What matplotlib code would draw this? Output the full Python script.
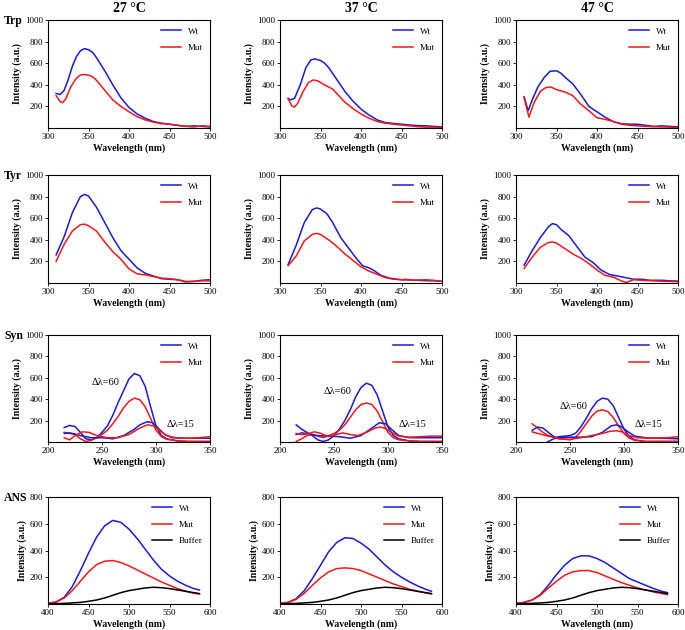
import matplotlib
matplotlib.use("Agg")
import matplotlib.pyplot as plt

plt.rcParams['font.family'] = ['Liberation Serif', 'DejaVu Serif']

# ---- Trp ----
trp27_x_wt = [310, 315, 320, 325, 330, 335, 340, 345, 350, 355, 360, 370, 380, 390, 400, 410, 420, 430, 440, 450, 460, 470, 480, 490, 500]
trp27_wt = [320, 310, 350, 450, 570, 660, 715, 735, 725, 700, 650, 530, 400, 280, 190, 130, 90, 60, 45, 35, 25, 15, 20, 15, 10]
trp27_x_mut = [310, 315, 318, 322, 328, 335, 340, 345, 350, 355, 360, 370, 380, 390, 400, 410, 420, 430, 440, 450, 460, 470, 480, 490, 500]
trp27_mut = [300, 245, 235, 270, 380, 460, 490, 495, 490, 475, 440, 350, 260, 200, 150, 105, 75, 55, 40, 35, 25, 15, 10, 20, 15]

trp37_x_wt = [310, 313, 318, 325, 332, 338, 343, 350, 355, 360, 370, 380, 390, 400, 410, 420, 430, 440, 450, 460, 470, 480, 490, 500]
trp37_wt = [275, 260, 275, 400, 560, 630, 640, 625, 600, 560, 450, 340, 250, 175, 120, 75, 50, 42, 35, 28, 22, 20, 15, 10]
trp37_x_mut = [310, 315, 318, 322, 328, 335, 341, 347, 355, 365, 370, 380, 390, 400, 410, 420, 430, 440, 450, 460, 470, 480, 490, 500]
trp37_mut = [270, 200, 195, 230, 330, 420, 445, 435, 400, 360, 320, 240, 180, 130, 90, 60, 45, 35, 28, 20, 12, 8, 8, 5]

trp47_x_wt = [310, 315, 320, 327, 335, 342, 350, 355, 362, 370, 380, 390, 400, 410, 420, 430, 440, 450, 460, 470, 480, 490, 500]
trp47_wt = [290, 160, 260, 380, 470, 525, 530, 510, 460, 410, 310, 200, 150, 100, 60, 40, 35, 35, 25, 15, 20, 15, 10]
trp47_x_mut = [310, 316, 322, 330, 337, 343, 350, 360, 370, 380, 390, 400, 410, 420, 430, 440, 450, 460, 470, 480, 490, 500]
trp47_mut = [280, 100, 230, 340, 375, 380, 355, 335, 300, 220, 160, 95, 80, 60, 35, 25, 20, 15, 12, 10, 8, 5]

# ---- Tyr ----
tyr27_x_wt = [310, 320, 330, 340, 345, 350, 360, 370, 380, 390, 400, 410, 420, 430, 440, 450, 460, 470, 480, 490, 500]
tyr27_wt = [260, 430, 650, 800, 820, 805, 700, 560, 420, 300, 220, 140, 90, 65, 40, 35, 30, 10, 15, 25, 30]
tyr27_x_mut = [310, 320, 330, 340, 345, 350, 360, 370, 380, 390, 400, 410, 420, 430, 440, 450, 460, 470, 480, 490, 500]
tyr27_mut = [200, 360, 480, 540, 545, 530, 480, 380, 290, 220, 130, 85, 75, 60, 45, 40, 30, 15, 15, 20, 20]

tyr37_x_wt = [310, 320, 330, 340, 345, 350, 358, 365, 375, 385, 395, 402, 410, 415, 425, 435, 450, 460, 470, 480, 490, 500]
tyr37_wt = [170, 350, 560, 680, 695, 685, 640, 560, 420, 320, 220, 160, 140, 120, 70, 45, 30, 28, 25, 22, 20, 15]
tyr37_x_mut = [310, 320, 330, 340, 345, 350, 360, 370, 380, 390, 400, 410, 420, 430, 440, 450, 455, 465, 480, 490, 500]
tyr37_mut = [160, 250, 390, 450, 460, 450, 400, 340, 270, 210, 150, 110, 80, 50, 35, 30, 35, 25, 30, 25, 15]

tyr47_x_wt = [310, 320, 330, 340, 345, 350, 355, 365, 375, 385, 395, 405, 415, 425, 435, 445, 455, 465, 480, 490, 500]
tyr47_wt = [165, 300, 420, 520, 550, 540, 500, 440, 340, 240, 190, 120, 80, 65, 50, 35, 35, 25, 25, 20, 18]
tyr47_x_mut = [310, 320, 330, 340, 345, 350, 360, 370, 380, 390, 400, 410, 420, 430, 436, 445, 455, 470, 485, 500]
tyr47_mut = [135, 240, 330, 375, 380, 370, 320, 270, 230, 180, 120, 70, 55, 20, 5, 30, 25, 20, 15, 12]

# ---- Syn (two scans each: dl=60 and dl=15) ----
syn27_x_wt60 = [215, 220, 225, 230, 235, 240, 245, 250, 255, 260, 265, 270, 275, 280, 285, 290, 295, 300, 305, 310, 320, 330, 340, 350]
syn27_wt60 = [135, 155, 145, 90, 30, 20, 40, 90, 150, 250, 370, 480, 590, 640, 620, 520, 330, 150, 60, 30, 10, 5, 5, 5]
syn27_x_wt15 = [215, 220, 225, 230, 240, 250, 260, 270, 280, 285, 292, 297, 302, 308, 315, 330, 340, 350]
syn27_wt15 = [80, 85, 75, 60, 40, 40, 30, 60, 120, 160, 190, 180, 130, 70, 40, 35, 35, 35]
syn27_x_mut60 = [215, 220, 225, 230, 235, 240, 245, 250, 255, 260, 265, 270, 275, 280, 285, 290, 295, 300, 305, 310, 320, 330, 340, 350]
syn27_mut60 = [90, 80, 70, 30, 5, 15, 40, 70, 110, 170, 240, 320, 380, 410, 395, 330, 220, 110, 50, 25, 10, 5, 5, 5]
syn27_x_mut15 = [215, 220, 225, 232, 238, 245, 255, 265, 275, 285, 292, 298, 303, 310, 320, 330, 340, 350]
syn27_mut15 = [40, 20, 60, 95, 90, 60, 40, 40, 70, 130, 160, 150, 110, 60, 35, 35, 40, 50]

syn37_x_wt60 = [215, 220, 225, 230, 235, 240, 245, 250, 255, 260, 265, 270, 275, 280, 285, 290, 295, 300, 305, 310, 320, 330, 340, 350]
syn37_wt60 = [160, 120, 90, 60, 20, 5, 20, 60, 120, 200, 300, 420, 510, 550, 530, 440, 290, 140, 60, 30, 10, 5, 5, 5]
syn37_x_wt15 = [215, 220, 225, 235, 245, 255, 265, 275, 285, 292, 298, 303, 310, 320, 330, 340, 350]
syn37_wt15 = [70, 85, 80, 60, 55, 50, 35, 60, 130, 180, 170, 120, 60, 40, 40, 40, 40]
syn37_x_mut60 = [215, 220, 225, 230, 235, 240, 245, 250, 255, 260, 265, 270, 275, 280, 285, 290, 295, 300, 305, 310, 320, 330, 340, 350]
syn37_mut60 = [5, 30, 60, 70, 55, 40, 60, 80, 110, 160, 230, 300, 350, 365, 350, 290, 190, 90, 40, 20, 10, 5, 5, 5]
syn37_x_mut15 = [215, 220, 225, 232, 238, 245, 252, 258, 265, 272, 280, 288, 293, 298, 303, 310, 320, 330, 340, 350]
syn37_mut15 = [80, 70, 75, 95, 80, 50, 70, 85, 70, 60, 90, 130, 140, 125, 90, 55, 45, 50, 55, 55]

syn47_x_wt60 = [229, 235, 240, 250, 255, 260, 265, 270, 275, 280, 285, 290, 295, 300, 305, 310, 320, 330, 340, 350]
syn47_wt60 = [0, 30, 50, 60, 80, 140, 220, 310, 380, 410, 400, 340, 230, 120, 50, 20, 5, 5, 5, 5]
syn47_x_wt15 = [215, 220, 225, 230, 235, 240, 250, 260, 270, 280, 288, 293, 298, 303, 310, 320, 335, 350]
syn47_wt15 = [110, 140, 130, 90, 50, 40, 45, 45, 50, 90, 150, 160, 140, 100, 55, 40, 35, 30]
syn47_x_mut60 = [215, 220, 225, 230, 240, 250, 255, 260, 265, 270, 275, 280, 285, 290, 295, 300, 305, 310, 320, 335, 350]
syn47_mut60 = [170, 130, 90, 60, 30, 20, 40, 100, 170, 240, 290, 300, 285, 230, 150, 80, 35, 15, 5, 5, 5]
syn47_x_mut15 = [215, 220, 230, 240, 250, 260, 270, 280, 287, 293, 298, 305, 312, 325, 340, 350]
syn47_mut15 = [95, 80, 55, 30, 25, 40, 60, 80, 100, 105, 95, 60, 40, 35, 40, 50]

# ---- ANS ----
ans_x = [400, 410, 420, 430, 440, 450, 460, 470, 480, 490, 500, 510, 520, 530, 540, 550, 560, 570, 580, 587]
ans27_wt = [5, 15, 50, 130, 250, 380, 500, 585, 625, 610, 560, 490, 410, 330, 260, 210, 170, 140, 115, 105]
ans27_mut = [5, 15, 45, 100, 170, 240, 295, 320, 325, 310, 285, 255, 225, 195, 165, 140, 115, 95, 80, 75]
ans37_wt = [5, 12, 40, 100, 190, 290, 390, 460, 495, 490, 455, 410, 350, 290, 240, 200, 165, 135, 110, 95]
ans37_mut = [5, 12, 35, 80, 140, 195, 240, 265, 270, 265, 250, 225, 200, 175, 150, 130, 110, 95, 82, 75]
ans47_wt = [5, 12, 30, 70, 140, 220, 290, 340, 360, 360, 340, 310, 270, 230, 190, 165, 140, 115, 95, 85]
ans47_mut = [5, 12, 30, 65, 120, 170, 215, 240, 250, 250, 235, 210, 185, 160, 140, 120, 105, 90, 78, 70]
ans_buffer = [2, 3, 5, 8, 12, 20, 30, 45, 65, 85, 100, 110, 120, 125, 122, 115, 105, 95, 85, 78]

temps = ['27 °C', '37 °C', '47 °C']
rows = ['Trp', 'Tyr', 'Syn', 'ANS']

W, H = 685, 630
col_x = [(48, 210), (280, 442), (516, 678)]
row_y = [(20, 128), (175, 283), (335, 442), (497, 604)]

BLUE = '#1a1ad6'
RED = '#f01818'

fig = plt.figure(figsize=(W / 100, H / 100), dpi=100)


def make_ax(r, c):
    x0, x1 = col_x[c]
    y0, y1 = row_y[r]
    ax = fig.add_axes([x0 / W, 1 - y1 / H, (x1 - x0) / W, (y1 - y0) / H])
    ax.tick_params(labelsize=6.5, length=2, width=0.6, pad=1.5)
    for s in ax.spines.values():
        s.set_linewidth(0.8)
    ax.set_xlabel('Wavelength (nm)', fontsize=7, fontweight='bold', labelpad=2)
    ax.set_ylabel('Intensity (a.u.)', fontsize=7, fontweight='bold', labelpad=2)
    return ax


def finish(ax, xlim, xticks, ylim, yticks, ncols):
    ax.set_xlim(*xlim)
    ax.set_xticks(xticks)
    ax.set_ylim(*ylim)
    ax.set_yticks(yticks)
    ax.legend(handles=ax.lines[:ncols], loc='upper right', frameon=False, fontsize=6.5,
              handlelength=2.2, labelspacing=0.9, borderaxespad=0.4)


lw = 1.1
trp = [(trp27_x_wt, trp27_wt, trp27_x_mut, trp27_mut),
       (trp37_x_wt, trp37_wt, trp37_x_mut, trp37_mut),
       (trp47_x_wt, trp47_wt, trp47_x_mut, trp47_mut)]
tyr = [(tyr27_x_wt, tyr27_wt, tyr27_x_mut, tyr27_mut),
       (tyr37_x_wt, tyr37_wt, tyr37_x_mut, tyr37_mut),
       (tyr47_x_wt, tyr47_wt, tyr47_x_mut, tyr47_mut)]
syn = [(syn27_x_wt60, syn27_wt60, syn27_x_mut60, syn27_mut60, syn27_x_wt15, syn27_wt15, syn27_x_mut15, syn27_mut15),
       (syn37_x_wt60, syn37_wt60, syn37_x_mut60, syn37_mut60, syn37_x_wt15, syn37_wt15, syn37_x_mut15, syn37_mut15),
       (syn47_x_wt60, syn47_wt60, syn47_x_mut60, syn47_mut60, syn47_x_wt15, syn47_wt15, syn47_x_mut15, syn47_mut15)]
ans = [(ans27_wt, ans27_mut), (ans37_wt, ans37_mut), (ans47_wt, ans47_mut)]
yticks_1000 = [200, 400, 600, 800, 1000]

for c in range(3):
    for r, data in enumerate([trp, tyr]):
        ax = make_ax(r, c)
        xw, yw, xm, ym = data[c]
        ax.plot(xw, yw, color=BLUE, lw=lw, label='Wt')
        ax.plot(xm, ym, color=RED, lw=lw, label='Mut')
        finish(ax, (300, 500), [300, 350, 400, 450, 500], (0, 1000), yticks_1000, 2)

    ax = make_ax(2, c)
    xw, yw, xm, ym, xw2, yw2, xm2, ym2 = syn[c]
    ax.plot(xw, yw, color=BLUE, lw=lw, label='Wt')
    ax.plot(xm, ym, color=RED, lw=lw, label='Mut')
    ax.plot(xw2, yw2, color=BLUE, lw=lw)
    ax.plot(xm2, ym2, color=RED, lw=lw)
    pk = max(yw)
    ax.text(xw[yw.index(pk)] - 14, pk - 80, 'Δλ=60', fontsize=7.5, ha='right', va='center')
    ax.text(310, 165, 'Δλ=15', fontsize=7.5, ha='left', va='center')
    finish(ax, (200, 350), [200, 250, 300, 350], (0, 1000), yticks_1000, 2)

    ax = make_ax(3, c)
    ax.plot(ans_x, ans[c][0], color=BLUE, lw=lw, label='Wt')
    ax.plot(ans_x, ans[c][1], color=RED, lw=lw, label='Mut')
    ax.plot(ans_x, ans_buffer, color='black', lw=lw, label='Buffer')
    finish(ax, (400, 600), [400, 450, 500, 550, 600], (0, 800), [200, 400, 600, 800], 3)

for c, t in enumerate(temps):
    xc = (col_x[c][0] + col_x[c][1]) / 2
    fig.text(xc / W, 1 - 8 / H, t, fontsize=10, fontweight='bold', ha='center', va='center')

for r, name in enumerate(rows):
    fig.text(4 / W, 1 - (row_y[r][0] + 1) / H, name, fontsize=8.5, fontweight='bold', ha='left', va='center')

fig.savefig('out.png', dpi=100)
